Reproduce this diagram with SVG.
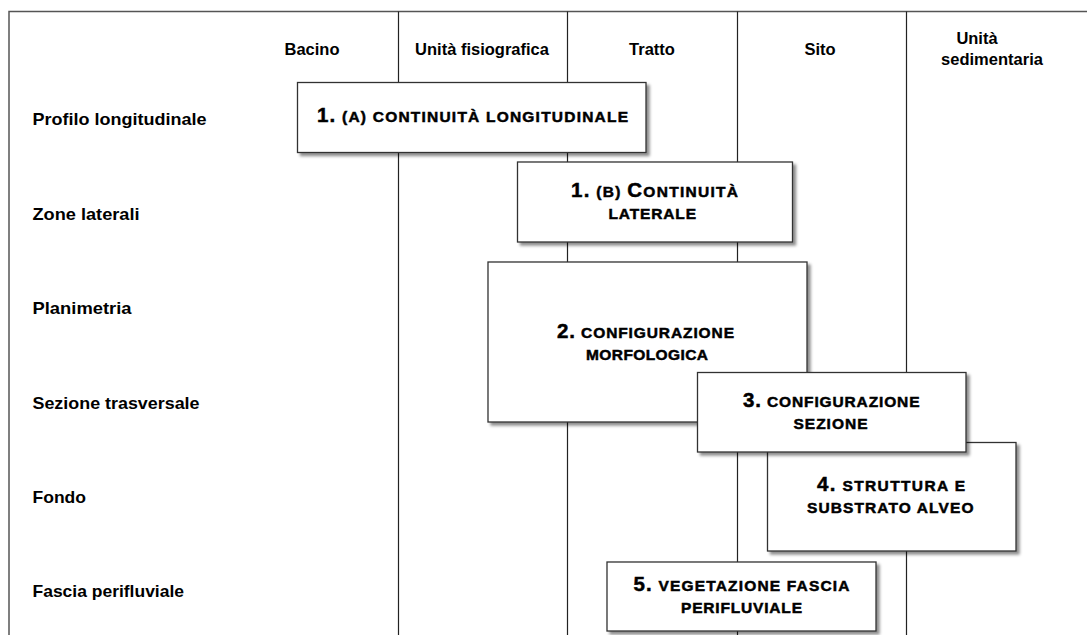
<svg xmlns="http://www.w3.org/2000/svg" width="1087" height="635" viewBox="0 0 1087 635">
<defs>
<filter id="sh" x="-10%" y="-10%" width="130%" height="140%">
<feDropShadow dx="3" dy="3" stdDeviation="1.5" flood-color="#000" flood-opacity="0.45"/>
</filter>
<style>
.frame{stroke:#555;stroke-width:1.5;fill:none}
.col{stroke:#222;stroke-width:1.2;fill:none}
.box{fill:#fff;stroke:#333;stroke-width:1.3;filter:url(#sh)}
.lab{font-family:"Liberation Sans",Arial,sans-serif;font-weight:bold;font-size:17px;fill:#000}
.hd{font-family:"Liberation Sans",Arial,sans-serif;font-weight:bold;font-size:16.5px;fill:#000;text-anchor:middle}
.bt{font-family:"Liberation Sans",Arial,sans-serif;font-weight:bold;fill:#000;stroke:#000;stroke-width:0.5}
.num{font-size:20.5px}
.sc{font-size:15.5px}
</style>
</defs>
<rect width="1087" height="635" fill="#fff"/>
<g id="grid">
<path class="frame" d="M9,635 V11.5 H1087"/>
<path class="col" d="M398.5,11.5 V635 M567.5,11.5 V635 M737.5,11.5 V635 M906.5,11.5 V635"/>
</g>
<g id="headers">
<text class="hd" x="312" y="55">Bacino</text>
<text class="hd" x="482" y="55">Unità fisiografica</text>
<text class="hd" x="652" y="55">Tratto</text>
<text class="hd" x="820" y="55">Sito</text>
<text class="hd" x="977" y="44">Unità</text>
<text class="hd" x="992" y="65">sedimentaria</text>
</g>
<g id="rows">
<text class="lab" x="32.5" y="125" textLength="174" lengthAdjust="spacingAndGlyphs">Profilo longitudinale</text>
<text class="lab" x="32.5" y="220" textLength="107" lengthAdjust="spacingAndGlyphs">Zone laterali</text>
<text class="lab" x="32.5" y="314" textLength="99" lengthAdjust="spacingAndGlyphs">Planimetria</text>
<text class="lab" x="32.5" y="408.5" textLength="167" lengthAdjust="spacingAndGlyphs">Sezione trasversale</text>
<text class="lab" x="32.5" y="503" textLength="53.5" lengthAdjust="spacingAndGlyphs">Fondo</text>
<text class="lab" x="32.5" y="597" textLength="151.5" lengthAdjust="spacingAndGlyphs">Fascia perifluviale</text>
</g>
<g id="node1a">
<rect class="box" x="297.5" y="82.5" width="348.5" height="70"/>
<text class="bt" x="317" y="122" textLength="311" lengthAdjust="spacing"><tspan class="num">1.</tspan><tspan class="sc"> (A) CONTINUITÀ LONGITUDINALE</tspan></text>
</g>
<g id="node1b">
<rect class="box" x="517.5" y="162" width="275" height="80"/>
<text class="bt" x="571" y="197" textLength="167" lengthAdjust="spacing"><tspan class="num">1.</tspan><tspan class="sc"> (B) </tspan><tspan class="num">C</tspan><tspan class="sc">ONTINUITÀ</tspan></text>
<text class="bt sc" x="608.5" y="218.5" textLength="87.5" lengthAdjust="spacing">LATERALE</text>
</g>
<g id="node2">
<rect class="box" x="488" y="262" width="319" height="160"/>
<text class="bt" x="557" y="337.5" textLength="177" lengthAdjust="spacing"><tspan class="num">2.</tspan><tspan class="sc"> CONFIGURAZIONE</tspan></text>
<text class="bt sc" x="586" y="359.5" textLength="122" lengthAdjust="spacing">MORFOLOGICA</text>
</g>
<g id="node4">
<rect class="box" x="767.5" y="442.5" width="248.5" height="108.5"/>
<text class="bt" x="817" y="491" textLength="148" lengthAdjust="spacing"><tspan class="num">4.</tspan><tspan class="sc"> STRUTTURA E</tspan></text>
<text class="bt sc" x="807" y="513" textLength="166.5" lengthAdjust="spacing">SUBSTRATO ALVEO</text>
</g>
<g id="node3">
<rect class="box" x="697.5" y="372.5" width="268.5" height="79.5"/>
<text class="bt" x="743" y="407" textLength="176.5" lengthAdjust="spacing"><tspan class="num">3.</tspan><tspan class="sc"> CONFIGURAZIONE</tspan></text>
<text class="bt sc" x="793.5" y="428.5" textLength="74" lengthAdjust="spacing">SEZIONE</text>
</g>
<g id="node5">
<rect class="box" x="607" y="562" width="269" height="69"/>
<text class="bt" x="633.5" y="591" textLength="216" lengthAdjust="spacing"><tspan class="num">5.</tspan><tspan class="sc"> VEGETAZIONE FASCIA</tspan></text>
<text class="bt sc" x="681" y="613" textLength="121" lengthAdjust="spacing">PERIFLUVIALE</text>
</g>
</svg>
